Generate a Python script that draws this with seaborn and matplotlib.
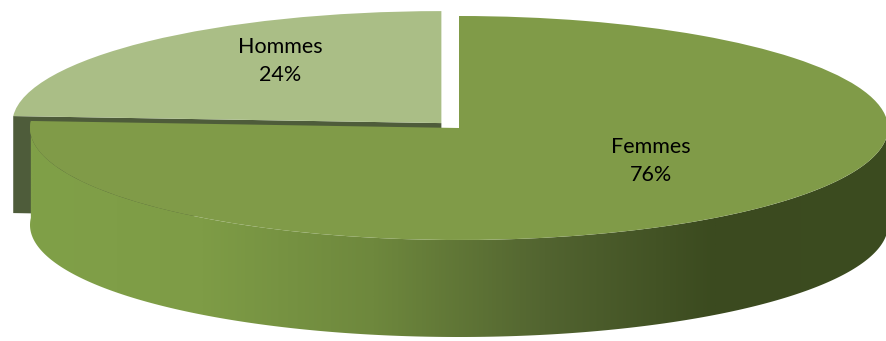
import numpy as np
import matplotlib
matplotlib.use("Agg")
import matplotlib.pyplot as plt
from matplotlib.patches import Polygon
import seaborn as sns

# ---- data ----
categories = ["Hommes", "Femmes"]
shares = [24, 76]
pct_labels = ["24%", "76%"]

# ---- style ----
sns.set_theme(style="white")
plt.rcParams['font.family'] = ['Lato', 'DejaVu Sans']

top_colors = ["#AABE86", "#809B48"]
hommes_side = "#4E5C3A"
wall_cmap = sns.blend_palette(
    ["#80A048", "#7E9C46", "#6E883D", "#526430", "#3B4A1F", "#3C4C20"],
    n_colors=256, as_cmap=True)

W, H = 886, 341
CX, CY, RA, RB = 459, 128, 429, 112   # top ellipse centre / radii (px)
DEPTH = 97 / RB                        # pie thickness in data units
label_pos_px = [(280, 61), (651, 161)]

fig = plt.figure(figsize=(W / 100, H / 100), dpi=100)
ax = fig.add_axes([0, 0, 1, 1])
wedges, _ = ax.pie(shares, startangle=90, counterclock=True, colors=top_colors,
                   explode=[0.06, 0], wedgeprops=dict(linewidth=0))

# Hommes (exploded, back) : visible cut face
wh = wedges[0]
hx, hy = wh.center
t2 = np.deg2rad(wh.theta2)
lx, ly = hx + wh.r * np.cos(t2), hy + wh.r * np.sin(t2)
ax.add_patch(Polygon([(hx, hy), (lx, ly), (lx, ly - DEPTH), (hx, hy - DEPTH)],
                     closed=True, fc=hommes_side, ec='none', zorder=1))
wh.set_zorder(2)

# Femmes : front wall with horizontal gradient
wf = wedges[1]
fx, fy = wf.center
th = np.deg2rad(np.linspace(wf.theta1, 360, 300))
top = np.column_stack([fx + wf.r * np.cos(th), fy + wf.r * np.sin(th)])
bot = top[::-1] - np.array([0, DEPTH])
wall = Polygon(np.vstack([top, bot]), closed=True, fc='none', ec='none',
               transform=ax.transData)
grad = np.linspace(0, 1, 512).reshape(1, -1)
im = ax.imshow(grad, cmap=wall_cmap, aspect='auto', interpolation='bilinear',
               extent=[fx - wf.r, fx + wf.r, fy - wf.r - DEPTH, fy + 0.2],
               zorder=3)
im.set_clip_path(wall)
wf.set_zorder(4)

for cat, pct, (px, py) in zip(categories, pct_labels, label_pos_px):
    ax.text((px - CX) / RA, (CY - py) / RB, f"{cat}\n{pct}", ha='center',
            va='center', fontsize=15.5, color='black', zorder=10,
            linespacing=1.45)

ax.set_aspect('auto')
ax.set_xlim(-CX / RA, (W - CX) / RA)
ax.set_ylim((CY - H) / RB, CY / RB)
ax.axis('off')

fig.savefig("out.png", dpi=100, facecolor='white')
